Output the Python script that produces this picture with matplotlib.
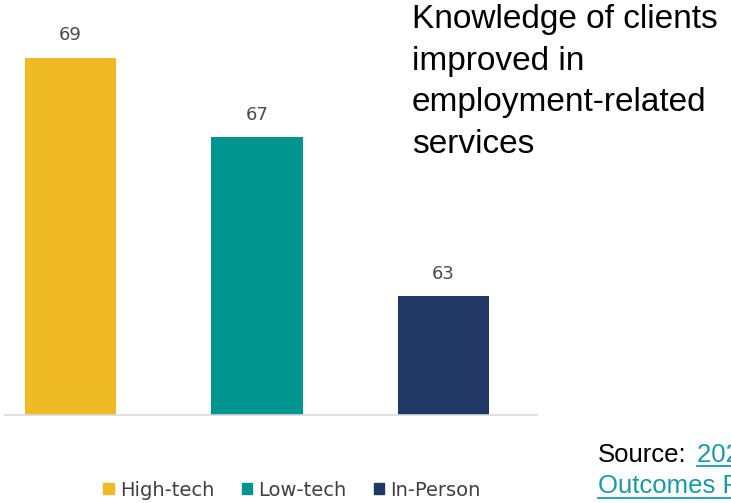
import matplotlib
matplotlib.use("Agg")
import matplotlib.pyplot as plt
from matplotlib.lines import Line2D

categories = ["High-tech", "Low-tech", "In-Person"]
values = [69, 67, 63]
colors = ["#F0BA26", "#00968F", "#213864"]

fig = plt.figure(figsize=(7.31, 5.03), dpi=100)
ax = fig.add_axes([5/731, 88/503, 532/731, 415/503])
x = list(range(len(categories)))
ax.bar(x, values, width=0.49, color=colors, bottom=0)
ax.set_ylim(60, 70.45)
ax.set_xlim(-0.35, 2.5)
for s in ["top", "right", "left"]:
    ax.spines[s].set_visible(False)
ax.spines["bottom"].set_color("#D9D9D9")
ax.spines["bottom"].set_linewidth(1.2)
ax.set_xticks([])
ax.set_yticks([])
for xi, v in zip(x, values):
    ax.text(xi, v + 0.33, str(v), ha="center", va="bottom", fontsize=13,
            color="#4a4a4a", family="DejaVu Sans")

# Title block
fig.text(412/731, 1 - 4/503, "Knowledge of clients\nimproved in\nemployment-related\nservices",
         ha="left", va="top", fontsize=24, family="Liberation Sans", color="#000000",
         linespacing=1.44)

# Legend
handles = [plt.Rectangle((0, 0), 1, 1, color=c) for c in colors]
leg = fig.legend(handles, categories, loc="center", bbox_to_anchor=(292/731, 1 - 490/503),
                 ncol=3, frameon=False, handlelength=0.55, handleheight=0.55,
                 handletextpad=0.3, columnspacing=1.4,
                 prop={"family": "DejaVu Sans", "size": 14})
for t in leg.get_texts():
    t.set_color("#404040")

# Source
link = "#1A9AA3"
fig.text(598/731, 1 - 462/503, "Source:", ha="left", va="baseline", fontsize=18.5,
         family="Liberation Sans", color="black")
fig.text(697/731, 1 - 462/503, "2021 Client", ha="left", va="baseline", fontsize=18.5,
         family="Liberation Sans", color=link)
fig.text(598/731, 1 - 493/503, "Outcomes Report", ha="left", va="baseline", fontsize=18.5,
         family="Liberation Sans", color=link)
fig.add_artist(Line2D([697/731, 1.0], [1 - 466/503, 1 - 466/503], color=link, lw=1.3,
                      transform=fig.transFigure))
fig.add_artist(Line2D([598/731, 1.0], [1 - 498/503, 1 - 498/503], color=link, lw=1.3,
                      transform=fig.transFigure))

fig.savefig("out.png", dpi=100)
